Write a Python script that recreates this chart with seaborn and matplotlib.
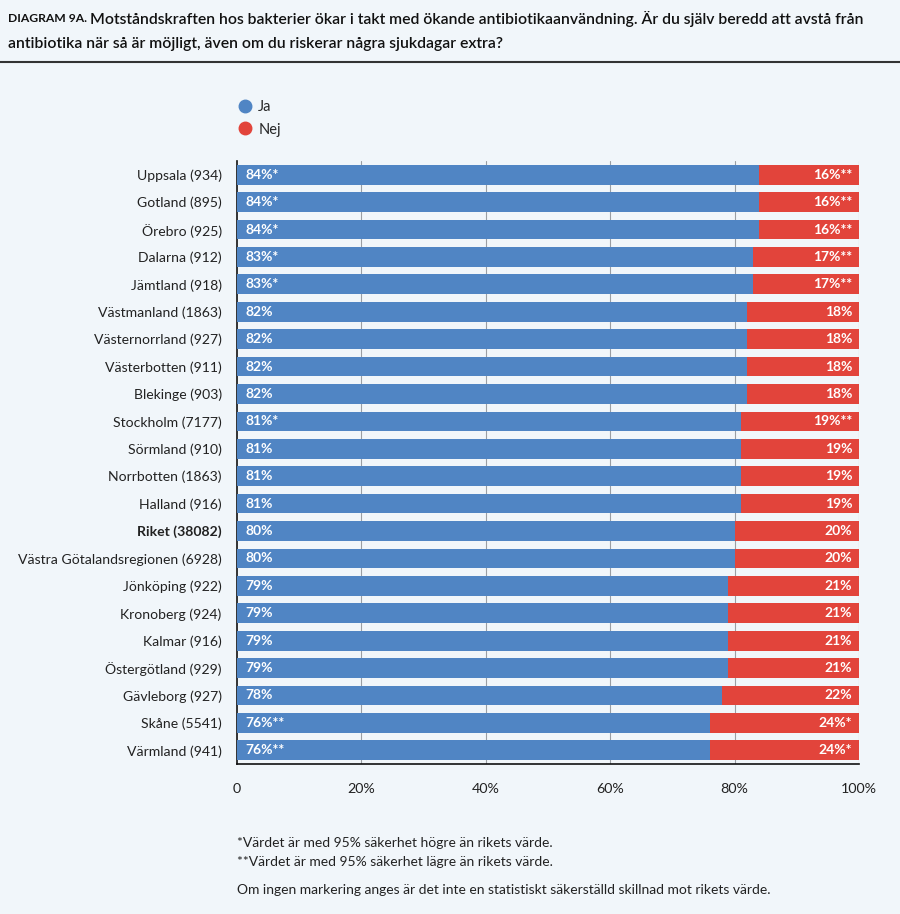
import matplotlib
matplotlib.use("Agg")
import matplotlib.pyplot as plt
import seaborn as sns
import pandas as pd
from matplotlib.lines import Line2D

regions = ["Uppsala (934)", "Gotland (895)", "Örebro (925)", "Dalarna (912)", "Jämtland (918)",
           "Västmanland (1863)", "Västernorrland (927)", "Västerbotten (911)", "Blekinge (903)",
           "Stockholm (7177)", "Sörmland (910)", "Norrbotten (1863)", "Halland (916)",
           "Riket (38082)", "Västra Götalandsregionen (6928)", "Jönköping (922)", "Kronoberg (924)",
           "Kalmar (916)", "Östergötland (929)", "Gävleborg (927)", "Skåne (5541)", "Värmland (941)"]
ja = [84, 84, 84, 83, 83, 82, 82, 82, 82, 81, 81, 81, 81, 80, 80, 79, 79, 79, 79, 78, 76, 76]
nej = [16, 16, 16, 17, 17, 18, 18, 18, 18, 19, 19, 19, 19, 20, 20, 21, 21, 21, 21, 22, 24, 24]
ja_marks = ["*", "*", "*", "*", "*", "", "", "", "", "*", "", "", "", "", "", "", "", "", "", "", "**", "**"]
nej_marks = ["**", "**", "**", "**", "**", "", "", "", "", "**", "", "", "", "", "", "", "", "", "", "", "*", "*"]
xticks = [0, 20, 40, 60, 80, 100]
xticklabels = ["0", "20%", "40%", "60%", "80%", "100%"]

BLUE = "#5085c4"
RED = "#e2443b"
BG = "#f1f6fa"
FONT = ["Lato", "DejaVu Sans"]

sns.set_theme(style="white")
plt.rcParams["font.family"] = FONT

df = pd.DataFrame({"region": regions, "ja": ja, "nej": nej})
df["total"] = df["ja"] + df["nej"]

fig = plt.figure(figsize=(9, 9.14), dpi=100, facecolor=BG)
ax = fig.add_axes([237 / 900, 1 - 764 / 914, (859 - 237) / 900, (764 - 161) / 914])
ax.set_facecolor(BG)

for xv in xticks[1:]:
    ax.axvline(xv, color="#9a9ea3", lw=0.8, zorder=0)

sns.barplot(data=df, x="total", y="region", color=RED, width=0.72, saturation=1,
            ax=ax, zorder=2, linewidth=0)
sns.barplot(data=df, x="ja", y="region", color=BLUE, width=0.72, saturation=1,
            ax=ax, zorder=3, linewidth=0)

for i in range(len(regions)):
    ax.text(1.4, i, f"{ja[i]}%{ja_marks[i]}", color="white", fontweight="bold",
            fontsize=10, va="center", ha="left", zorder=5)
    ax.text(98.9, i, f"{nej[i]}%{nej_marks[i]}", color="white", fontweight="bold",
            fontsize=10, va="center", ha="right", zorder=5)

ax.set_xlim(0, 100)
ax.set_ylim(len(regions) - 0.5, -0.5)
ax.set_xticks(xticks)
ax.set_xticklabels(xticklabels, fontsize=10.3, color="#222222")
ax.tick_params(axis="x", length=0, pad=14)
ax.tick_params(axis="y", length=0, pad=11)
ax.set_yticks(range(len(regions)))
ax.set_yticklabels(regions, fontsize=10.1, color="#222222")
for lbl in ax.get_yticklabels():
    if lbl.get_text().startswith("Riket"):
        lbl.set_fontweight("bold")
ax.set_xlabel("")
ax.set_ylabel("")
for s in ["top", "right"]:
    ax.spines[s].set_visible(False)
for s in ["left", "bottom"]:
    ax.spines[s].set_color("#111111")
    ax.spines[s].set_linewidth(1.2)

handles = [Line2D([], [], marker="o", ls="", color=BLUE, markersize=9),
           Line2D([], [], marker="o", ls="", color=RED, markersize=9)]
fig.legend(handles, ["Ja", "Nej"], loc="upper left", bbox_to_anchor=(232 / 900, 1 - 94 / 914),
           frameon=False, fontsize=10.5, handlelength=1.0, handletextpad=0.4,
           labelspacing=0.6, borderaxespad=0)

# title
renderer = fig.canvas.get_renderer()
t1 = fig.text(8 / 900, 1 - 19 / 914, "DIAGRAM 9A.", fontsize=8.7, fontweight="bold",
              va="center", ha="left", color="#111111")
bb = t1.get_window_extent(renderer)
fig.text((bb.x1 + 3) / 900, 1 - 19 / 914,
         "Motståndskraften hos bakterier ökar i takt med ökande antibiotikaanvändning. Är du själv beredd att avstå från",
         fontsize=11.3, fontweight="semibold", va="center", ha="left", color="#111111")
fig.text(8 / 900, 1 - 44 / 914, "antibiotika när så är möjligt, även om du riskerar några sjukdagar extra?",
         fontsize=11.3, fontweight="semibold", va="center", ha="left", color="#111111")
fig.add_artist(Line2D([0, 1], [1 - 62 / 914, 1 - 62 / 914], color="#333333", lw=1.5,
                      transform=fig.transFigure))

# footnotes
fig.text(237 / 900, 1 - 843 / 914, "*Värdet är med 95% säkerhet högre än rikets värde.",
         fontsize=10, va="center", ha="left", color="#222222")
fig.text(237 / 900, 1 - 862 / 914, "**Värdet är med 95% säkerhet lägre än rikets värde.",
         fontsize=10, va="center", ha="left", color="#222222")
fig.text(237 / 900, 1 - 890 / 914,
         "Om ingen markering anges är det inte en statistiskt säkerställd skillnad mot rikets värde.",
         fontsize=10, va="center", ha="left", color="#222222")

fig.savefig("out.png", dpi=100, facecolor=BG)
